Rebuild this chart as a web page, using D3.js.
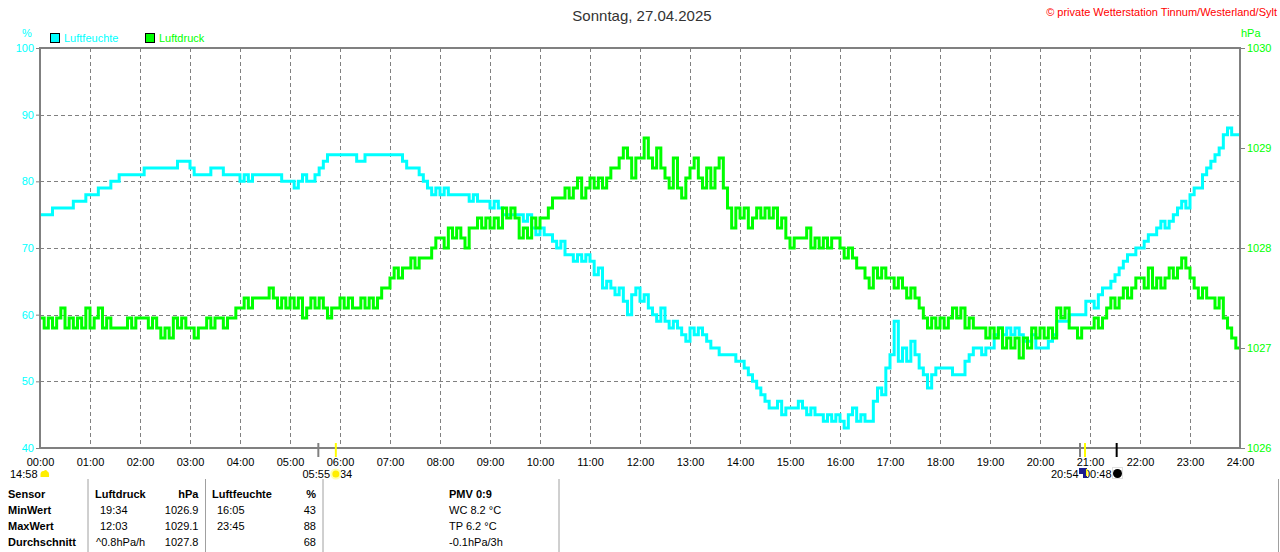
<!DOCTYPE html>
<html>
<head>
<meta charset="utf-8">
<script src="https://cdn.jsdelivr.net/npm/d3@7"></script>
<style>
  html, body { margin: 0; padding: 0; background: #fff; }
  svg { display: block; font-family: "Liberation Sans", Arial, sans-serif; }
</style>
</head>
<body>
<script>
// ---------- DATA ----------
const title = "Sonntag, 27.04.2025";
const copyright = "\u00A9 private Wetterstation Tinnum/Westerland/Sylt";
const seriesNames = ["Luftfeuchte", "Luftdruck"];
const hourTicks = d3.range(0, 25);           // 00:00 .. 24:00
const humTicks = [40, 50, 60, 70, 80, 90, 100];
const presTicks = [1026, 1027, 1028, 1029, 1030];
const stepMinutes = 5;                        // one value every 5 minutes

// Luftfeuchte (%) — every 5 minutes, 00:00 .. 24:00
const humidity = [
  75,75,75,76,76,76,76,76,77,77,77,78,
  78,78,79,79,79,80,80,81,81,81,81,81,
  81,82,82,82,82,82,82,82,82,83,83,83,
  82,81,81,81,81,82,82,82,81,81,81,81,
  80,81,80,81,81,81,81,81,81,81,80,80,
  80,79,80,81,80,80,81,82,83,84,84,84,
  84,84,84,84,83,83,84,84,84,84,84,84,
  84,84,84,83,82,82,82,81,80,79,78,79,
  78,79,78,78,78,78,78,77,78,77,77,77,
  76,77,76,75,75,75,75,75,74,75,73,72,
  73,72,72,71,70,71,69,69,68,69,68,69,
  68,66,67,64,65,64,63,64,62,60,63,64,
  62,63,61,60,59,61,59,58,59,58,57,56,
  58,57,58,57,56,55,55,54,54,54,54,53,
  53,52,51,50,49,48,47,46,46,47,45,46,
  46,46,47,46,45,46,45,45,44,45,44,45,
  44,43,45,46,44,45,44,44,47,49,48,52,
  54,59,53,55,53,56,54,52,51,49,51,52,
  52,52,52,51,51,51,53,54,55,55,54,55,
  55,57,58,57,58,57,58,57,56,56,57,55,
  55,55,56,57,59,59,59,60,60,60,60,62,
  62,61,63,64,64,65,66,67,68,69,69,70,
  70,71,72,72,73,74,73,74,75,76,77,76,
  78,79,79,81,82,83,84,85,87,88,87,87,
  87
];

// Luftdruck (hPa) — every 5 minutes, 00:00 .. 24:00
const pressure = [
  1027.3,1027.2,1027.3,1027.2,1027.3,1027.4,1027.2,1027.3,1027.2,1027.3,1027.2,1027.4,
  1027.2,1027.3,1027.4,1027.2,1027.3,1027.2,1027.2,1027.2,1027.2,1027.3,1027.2,1027.3,
  1027.3,1027.3,1027.2,1027.3,1027.2,1027.1,1027.2,1027.1,1027.3,1027.2,1027.3,1027.2,
  1027.2,1027.1,1027.2,1027.2,1027.3,1027.2,1027.3,1027.3,1027.2,1027.3,1027.3,1027.4,
  1027.4,1027.5,1027.4,1027.5,1027.5,1027.5,1027.5,1027.6,1027.5,1027.4,1027.5,1027.4,
  1027.5,1027.4,1027.5,1027.3,1027.4,1027.5,1027.4,1027.5,1027.4,1027.3,1027.4,1027.4,
  1027.5,1027.4,1027.5,1027.4,1027.4,1027.5,1027.4,1027.5,1027.4,1027.5,1027.6,1027.6,
  1027.7,1027.8,1027.7,1027.8,1027.8,1027.9,1027.8,1027.9,1027.9,1027.9,1028.0,1028.1,
  1028.1,1028.0,1028.2,1028.1,1028.2,1028.1,1028.0,1028.2,1028.2,1028.3,1028.2,1028.3,
  1028.2,1028.3,1028.2,1028.4,1028.3,1028.4,1028.3,1028.1,1028.2,1028.1,1028.3,1028.2,
  1028.3,1028.3,1028.4,1028.5,1028.5,1028.5,1028.6,1028.5,1028.6,1028.7,1028.5,1028.6,
  1028.7,1028.6,1028.7,1028.6,1028.7,1028.8,1028.8,1028.9,1029.0,1028.9,1028.7,1028.9,
  1028.9,1029.1,1028.9,1028.8,1029.0,1028.8,1028.7,1028.6,1028.9,1028.6,1028.5,1028.7,
  1028.8,1028.9,1028.7,1028.6,1028.8,1028.6,1028.8,1028.9,1028.6,1028.4,1028.2,1028.4,
  1028.3,1028.4,1028.2,1028.3,1028.4,1028.3,1028.4,1028.3,1028.4,1028.2,1028.3,1028.1,
  1028.0,1028.1,1028.1,1028.1,1028.2,1028.0,1028.1,1028.0,1028.1,1028.0,1028.1,1028.1,
  1028.0,1027.9,1028.0,1027.9,1027.8,1027.8,1027.7,1027.6,1027.8,1027.7,1027.8,1027.7,
  1027.7,1027.6,1027.7,1027.6,1027.5,1027.6,1027.5,1027.4,1027.3,1027.2,1027.3,1027.2,
  1027.3,1027.2,1027.3,1027.4,1027.3,1027.4,1027.2,1027.3,1027.2,1027.2,1027.2,1027.1,
  1027.2,1027.1,1027.2,1027.0,1027.1,1027.0,1027.1,1026.9,1027.1,1027.0,1027.2,1027.1,
  1027.2,1027.1,1027.2,1027.1,1027.4,1027.3,1027.4,1027.2,1027.2,1027.1,1027.2,1027.2,
  1027.2,1027.3,1027.2,1027.3,1027.4,1027.5,1027.4,1027.5,1027.6,1027.5,1027.6,1027.7,
  1027.7,1027.6,1027.8,1027.6,1027.7,1027.6,1027.7,1027.8,1027.7,1027.8,1027.9,1027.8,
  1027.7,1027.6,1027.5,1027.6,1027.5,1027.5,1027.4,1027.5,1027.3,1027.2,1027.1,1027.0,
  1027.0
];

// Sun / moon markers on the time axis (minutes of day)
const markerTimes  = [334, 355, 1248, 1254, 1292];
const markerColors = ["#808080", "#ffff00", "#808080", "#ffff00", "#000000"];

// Table below the chart
const tableRows = [
  ["Sensor",       "Luftdruck",  "hPa",    "Luftfeuchte", "%",  "PMV 0:9"],
  ["MinWert",      "19:34",      "1026.9", "16:05",       "43", "WC 8.2 \u00B0C"],
  ["MaxWert",      "12:03",      "1029.1", "23:45",       "88", "TP 6.2 \u00B0C"],
  ["Durchschnitt", "^0.8hPa/h",  "1027.8", "",            "68", "-0.1hPa/3h"]
];

// ---------- CHART ----------
const W = 1280, H = 552;
const CYAN = "#00ffff", GREEN = "#00ff00", GRID = "#808080";
const FONT = 11;

const svg = d3.select("body").append("svg").attr("width", W).attr("height", H);
svg.append("rect").attr("width", W).attr("height", H).attr("fill", "#fff");

const x = d3.scaleLinear().domain([0, 1440]).range([40, 1240]);
const yH = d3.scaleLinear().domain([40, 100]).range([448, 48]);
const yP = d3.scaleLinear().domain([1026, 1030]).range([448, 48]);

// grid
const grid = svg.append("g").attr("stroke", GRID).attr("stroke-width", 1)
  .attr("stroke-dasharray", "4,3").attr("shape-rendering", "crispEdges");
grid.selectAll(".vg").data(hourTicks.slice(1, -1)).join("line")
  .attr("x1", d => x(d * 60)).attr("x2", d => x(d * 60))
  .attr("y1", 48).attr("y2", 448);
grid.selectAll(".hg").data(humTicks.slice(1, -1)).join("line")
  .attr("x1", 40).attr("x2", 1240)
  .attr("y1", d => Math.round(yH(d)) + 0.5).attr("y2", d => Math.round(yH(d)) + 0.5);

// left axis (humidity)
const axL = svg.append("g").attr("transform", "translate(40,0)")
  .call(d3.axisLeft(yH).tickValues(humTicks).tickSize(4).tickPadding(2).tickFormat(d3.format("d")));
axL.select(".domain").remove();
axL.selectAll("line").attr("stroke", GRID);
axL.selectAll("text").attr("fill", CYAN).attr("font-size", FONT)
  .attr("font-family", "Liberation Sans, Arial, sans-serif");

// right axis (pressure)
const axR = svg.append("g").attr("transform", "translate(1240,0)")
  .call(d3.axisRight(yP).tickValues(presTicks).tickSize(5).tickPadding(2).tickFormat(d3.format("d")));
axR.select(".domain").remove();
axR.selectAll("line").attr("stroke", GRID);
axR.selectAll("text").attr("fill", GREEN).attr("font-size", FONT)
  .attr("font-family", "Liberation Sans, Arial, sans-serif");

// bottom axis (time)
const axB = svg.append("g").attr("transform", "translate(0,448)")
  .call(d3.axisBottom(x).tickValues(hourTicks.map(h => h * 60)).tickSize(0).tickPadding(10)
    .tickFormat(m => String(m / 60).padStart(2, "0") + ":00"));
axB.select(".domain").remove();
axB.selectAll("text").attr("fill", "#000").attr("font-size", FONT)
  .attr("font-family", "Liberation Sans, Arial, sans-serif");

// data lines
const stepLine = yScale => d3.line()
  .x((d, i) => x(i * stepMinutes))
  .y(d => yScale(d))
  .curve(d3.curveStepAfter);

svg.append("path").datum(humidity)
  .attr("d", stepLine(yH)).attr("fill", "none")
  .attr("stroke", CYAN).attr("stroke-width", 3).attr("stroke-linejoin", "miter");
svg.append("path").datum(pressure)
  .attr("d", stepLine(yP)).attr("fill", "none")
  .attr("stroke", GREEN).attr("stroke-width", 3).attr("stroke-linejoin", "miter");

// frame
svg.append("rect").attr("x", 40).attr("y", 48).attr("width", 1200).attr("height", 400)
  .attr("fill", "none").attr("stroke", GRID).attr("stroke-width", 2);

// sun/moon markers
svg.append("g").selectAll("line").data(markerTimes).join("line")
  .attr("x1", d => x(d)).attr("x2", d => x(d))
  .attr("y1", 443).attr("y2", 457)
  .attr("stroke", (d, i) => markerColors[i]).attr("stroke-width", 2);

// marker labels
const lab = svg.append("g").attr("font-size", FONT).attr("fill", "#000");
lab.append("text").attr("x", 10).attr("y", 478).text("14:58");
lab.append("path").attr("d", "M40.5,477 L40.5,474 Q41,470.5 44,471 Q45.5,469 47.5,471.5 Q49.5,472 49,477 Z")
  .attr("fill", "#ffee00");
lab.append("text").attr("x", 330).attr("y", 478).attr("text-anchor", "end").text("05:55");
lab.append("text").attr("x", 340).attr("y", 478).text("34");
lab.append("circle").attr("cx", x(355)).attr("cy", 474).attr("r", 5.5).attr("fill", "#ffffb0");
lab.append("circle").attr("cx", x(355)).attr("cy", 474).attr("r", 3.5).attr("fill", "#ffee00");
lab.append("text").attr("x", 1078.5).attr("y", 478).attr("text-anchor", "end").text("20:54");
lab.append("text").attr("x", 1084).attr("y", 478).text("00:48");
lab.append("rect").attr("x", 1079).attr("y", 468).attr("width", 8).attr("height", 10).attr("fill", "#1c1c8c");
lab.append("path").attr("d", "M1079,478 L1079,474 L1083,474 L1083,478 Z").attr("fill", "#ffffff");
lab.append("rect").attr("x", 1086).attr("y", 469).attr("width", 1.5).attr("height", 7).attr("fill", "#ffff00");
lab.append("rect").attr("x", 1112.5).attr("y", 467.5).attr("width", 10).attr("height", 11)
  .attr("fill", "#fff").attr("stroke", "#c0c0c0").attr("stroke-dasharray", "1,1");
lab.append("circle").attr("cx", 1117.5).attr("cy", 473.5).attr("r", 4.5).attr("fill", "#000");

// titles & legend
svg.append("text").attr("x", 642).attr("y", 20.5).attr("text-anchor", "middle")
  .attr("font-size", 15).attr("fill", "#333").text(title);
svg.append("text").attr("x", 1277).attr("y", 15.5).attr("text-anchor", "end")
  .attr("font-size", FONT).attr("fill", "#ff0000").text(copyright);
svg.append("text").attr("x", 27).attr("y", 37).attr("text-anchor", "middle")
  .attr("font-size", FONT).attr("fill", CYAN).text("%");
svg.append("text").attr("x", 1241).attr("y", 37)
  .attr("font-size", FONT).attr("fill", GREEN).text("hPa");

const legend = svg.append("g");
const legendX = [50, 145];
const legendCol = [CYAN, GREEN];
seriesNames.forEach((n, i) => {
  legend.append("rect").attr("x", legendX[i] + 0.5).attr("y", 33.5).attr("width", 9).attr("height", 9)
    .attr("fill", legendCol[i]).attr("stroke", "#000").attr("stroke-width", 1);
  legend.append("text").attr("x", legendX[i] + 14).attr("y", 42)
    .attr("font-size", FONT).attr("fill", legendCol[i]).text(n);
});

// table
const tbl = svg.append("g").attr("font-size", FONT).attr("fill", "#000");
[88, 205.5, 323, 559, 1278.5].forEach(xx => {
  tbl.append("line").attr("x1", xx).attr("x2", xx).attr("y1", 479).attr("y2", 552)
    .attr("stroke", "#a0a0a0").attr("stroke-width", 1);
});
const rowY = [497.5, 514, 529.5, 545.5];
const colX = [8, 95, 198.5, 212, 316, 449];
const colAnchor = ["start", "start", "end", "start", "end", "start"];
tableRows.forEach((row, r) => {
  row.forEach((cell, c) => {
    let xx = colX[c];
    if (r > 0 && (c === 1 || c === 3) && /^\d\d:\d\d$/.test(cell)) xx += 5;
    if (r === 3 && c === 1) xx = 96;
    const bold = (r === 0 && c !== 5) || c === 0 || (r === 0 && c === 5);
    tbl.append("text").attr("x", xx).attr("y", rowY[r])
      .attr("text-anchor", colAnchor[c])
      .attr("font-weight", bold ? "bold" : "normal")
      .text(cell);
  });
});
</script>
</body>
</html>
